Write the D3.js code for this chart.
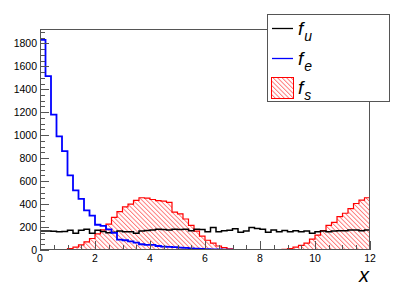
<!DOCTYPE html>
<html><head><meta charset="utf-8">
<script src="https://cdn.jsdelivr.net/npm/d3@7"></script>
<style>
html,body{margin:0;padding:0;background:#fff;}
svg{display:block;font-family:"Liberation Sans",Arial,sans-serif;}
</style></head>
<body>
<svg id="c" width="411" height="295"></svg>
<script>
// ---- data (60 bins of width 0.2 over 0..12) ----
const xMin = 0, xMax = 12, nBins = 60;
const fu = [165,165,163,160,162,172,145,172,180,145,
            172,162,150,155,165,160,160,145,165,170,
            175,180,178,175,180,178,180,168,180,178,
            160,196,160,168,172,185,155,165,195,188,
            180,155,175,160,170,160,168,160,165,145,
            160,165,160,165,168,168,174,174,168,174];
const fe = [1830,1515,1180,990,862,650,520,445,345,300,
            220,210,180,150,90,85,75,65,50,45,
            45,35,30,28,25,20,18,15,12,10,
            8,6,5,3,2,1,0,0,0,0,
            0,0,0,0,0,0,0,0,0,0,
            0,0,0,0,0,0,0,0,0,0];
const fs = [0,0,0,0,0,12,25,45,70,100,
            140,175,225,285,335,375,400,432,455,452,
            440,430,425,415,330,315,270,215,165,120,
            85,60,35,20,10,4,0,0,0,0,
            0,0,0,3,5,12,25,40,60,95,
            130,170,215,240,290,320,360,405,435,455];
const yTicks = [0,200,400,600,800,1000,1200,1400,1600,1800];
const xTicks = [0,2,4,6,8,10,12];
const legendItems = [
  {base:"f", sub:"u", kind:"line", color:"#000000"},
  {base:"f", sub:"e", kind:"line", color:"#0000ff"},
  {base:"f", sub:"s", kind:"hatch", color:"#ff0000"}
];

// ---- layout ----
const L = 40, R = 370, T = 29, B = 250;
const svg = d3.select("#c");
const x = d3.scaleLinear().domain([xMin, xMax]).range([L, R]);
const y = d3.scaleLinear().domain([0, 1925]).range([B, T]);
const bw = (xMax - xMin) / nBins;

// hatch pattern ("\" direction)
const defs = svg.append("defs");
const pat = defs.append("pattern").attr("id","hatch").attr("patternUnits","userSpaceOnUse")
  .attr("width",3.2).attr("height",6).attr("patternTransform","rotate(-45)");
pat.append("line").attr("x1",0.5).attr("y1",-1).attr("x2",0.5).attr("y2",7)
  .attr("stroke","#ff0000").attr("stroke-width",0.8).attr("stroke-opacity",0.7);
defs.append("clipPath").attr("id","clip").append("rect")
  .attr("x",L).attr("y",T).attr("width",R-L).attr("height",B-T);

function stepPath(vals){
  let p = `M${x(xMin)},${y(0)}`;
  vals.forEach((v,i)=>{
    p += `L${x(xMin+i*bw)},${y(v)}L${x(xMin+(i+1)*bw)},${y(v)}`;
  });
  p += `L${x(xMax)},${y(0)}`;
  return p;
}

const g = svg.append("g").attr("clip-path","url(#clip)");
g.append("path").attr("d", stepPath(fs)+"Z").attr("fill","url(#hatch)").attr("stroke","none");
g.append("path").attr("d", stepPath(fs)).attr("fill","none").attr("stroke","#ff0000").attr("stroke-width",1.2);
g.append("path").attr("d", stepPath(fu)).attr("fill","none").attr("stroke","#000000").attr("stroke-width",1.5);
g.append("path").attr("d", stepPath(fe)).attr("fill","none").attr("stroke","#0000ff").attr("stroke-width",1.8);

// frame
svg.append("rect").attr("x",L+0.5).attr("y",T+0.5).attr("width",R-L-1).attr("height",B-T-1)
  .attr("fill","none").attr("stroke","#555").attr("stroke-width",1);

// y axis ticks (inward)
const yMinor = d3.range(0, 1925, 50);
svg.append("g").selectAll("line").data(yMinor).join("line")
  .attr("x1",L).attr("x2",d=>L+(d%200===0?9:5))
  .attr("y1",d=>Math.round(y(d))+0.5).attr("y2",d=>Math.round(y(d))+0.5)
  .attr("stroke","#555").attr("stroke-width",1);
svg.append("g").selectAll("text").data(yTicks).join("text")
  .attr("x",L-3).attr("y",d=>y(d)+3.8).attr("text-anchor","end")
  .attr("font-size","10.5px").attr("fill","#000").text(d=>d);

// x axis ticks (inward)
const xMinor = d3.range(0, 12.01, 0.5);
svg.append("g").selectAll("line").data(xMinor).join("line")
  .attr("x1",d=>Math.round(x(d))+0.5).attr("x2",d=>Math.round(x(d))+0.5)
  .attr("y1",B).attr("y2",d=>B-(d%2===0?9:5))
  .attr("stroke","#555").attr("stroke-width",1);
svg.append("g").selectAll("text").data(xTicks).join("text")
  .attr("x",d=>x(d)).attr("y",B+12).attr("text-anchor","middle")
  .attr("font-size","10.5px").attr("fill","#000").text(d=>d);

// axis title
svg.append("text").attr("x",369).attr("y",282).attr("text-anchor","end")
  .attr("font-size","20px").attr("font-style","italic").text("x");

// legend
const lg = svg.append("g");
lg.append("rect").attr("x",267.5).attr("y",14.5).attr("width",122).attr("height",87)
  .attr("fill","#fff").attr("stroke","#555").attr("stroke-width",1);
const rowY = [28.5, 58.5, 88];
legendItems.forEach((it,i)=>{
  const cy = rowY[i];
  if(it.kind==="line"){
    lg.append("line").attr("x1",272).attr("x2",293).attr("y1",cy).attr("y2",cy)
      .attr("stroke",it.color).attr("stroke-width",1.3);
  } else {
    lg.append("rect").attr("x",271.5).attr("y",cy-10.5).attr("width",22).attr("height",21)
      .attr("fill","url(#hatch)").attr("stroke",it.color).attr("stroke-width",1);
  }
  const t = lg.append("text").attr("x",298).attr("y",cy+6)
    .attr("font-size","19px").attr("font-style","italic").attr("fill","#000");
  t.append("tspan").text(it.base);
  t.append("tspan").attr("dx",1).attr("dy",6).attr("font-size","14px").text(it.sub);
});
</script>
</body></html>
